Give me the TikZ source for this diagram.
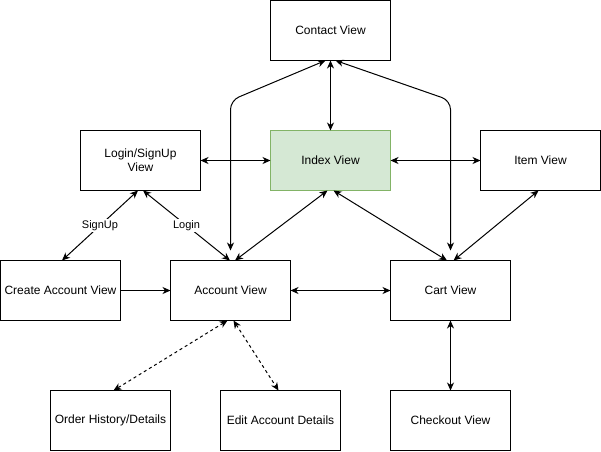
\documentclass[tikz,border=0pt]{standalone}
\usepackage{fontspec}
\setmainfont{Liberation Sans}
\usetikzlibrary{arrows.meta,calc}
\definecolor{idxfill}{HTML}{D5E8D4}
\definecolor{idxline}{HTML}{82B366}
\begin{document}
\begin{tikzpicture}[x=1pt,y=-1pt,
  box/.style={draw, line width=1pt, minimum width=120pt, minimum height=60pt,
    inner sep=0pt, outer sep=0pt, align=center, font=\fontsize{12}{14}\selectfont},
  conn/.style={line width=1pt, {Stealth[length=8pt,width=7pt,inset=2.5pt]}-{Stealth[length=8pt,width=7pt,inset=2.5pt]}},
  oneway/.style={line width=1pt, -{Stealth[length=8pt,width=7pt,inset=2.5pt]}},
  dsh/.style={dash pattern=on 3pt off 3pt},
  lbl/.style={fill=white, inner sep=1pt, font=\fontsize{11}{13}\selectfont}]
\useasboundingbox (0,0) rectangle (601,451);
\node[box] (contact) at (330.5,30.5) {Contact View};
\node[box] (login) at (140.5,160.5) {Login/SignUp\\View};
\node[box, fill=idxfill, draw=idxline] (index) at (330.5,160.5) {Index View};
\node[box] (item) at (540.5,160.5) {Item View};
\node[box] (create) at (60.5,290.5) {Create Account View};
\node[box] (account) at (230.5,290.5) {Account View};
\node[box] (cart) at (450.5,290.5) {Cart View};
\node[box] (order) at (110.5,420.5) {Order History/Details};
\node[box] (edit) at (280.5,420.5) {Edit Account Details};
\node[box] (checkout) at (450.5,420.5) {Checkout View};

\draw[conn] (contact.south) -- (index.north);
\draw[conn, rounded corners=9pt] ([xshift=-5pt]contact.south) -- (account.north |- 0,100.5) -- ([yshift=10pt]account.north);
\draw[conn, rounded corners=9pt] ([xshift=5pt]contact.south) -- (cart.north |- 0,100.5) -- ([yshift=10pt]cart.north);
\draw[conn] (login.east) -- (index.west);
\draw[conn] (index.east) -- (item.west);
\draw[conn] ([xshift=-2.5pt]login.south) -- node[lbl] {SignUp} ([xshift=1.5pt]create.north);
\draw[conn] ([xshift=2.5pt]login.south) -- node[lbl] {Login} ([xshift=-0.5pt]account.north);
\draw[conn] ([xshift=-3pt]index.south) -- ([xshift=4.5pt]account.north);
\draw[conn] ([xshift=3pt]index.south) -- ([xshift=-3.5pt]cart.north);
\draw[conn] ([xshift=-2pt]item.south) -- ([xshift=3pt]cart.north);
\draw[oneway] (create.east) -- (account.west);
\draw[conn] (account.east) -- (cart.west);
\draw[conn, dsh] ([xshift=-3pt]account.south) -- ([xshift=3pt]order.north);
\draw[conn, dsh] ([xshift=3pt]account.south) -- ([xshift=-2pt]edit.north);
\draw[conn] (cart.south) -- (checkout.north);
\end{tikzpicture}
\end{document}
